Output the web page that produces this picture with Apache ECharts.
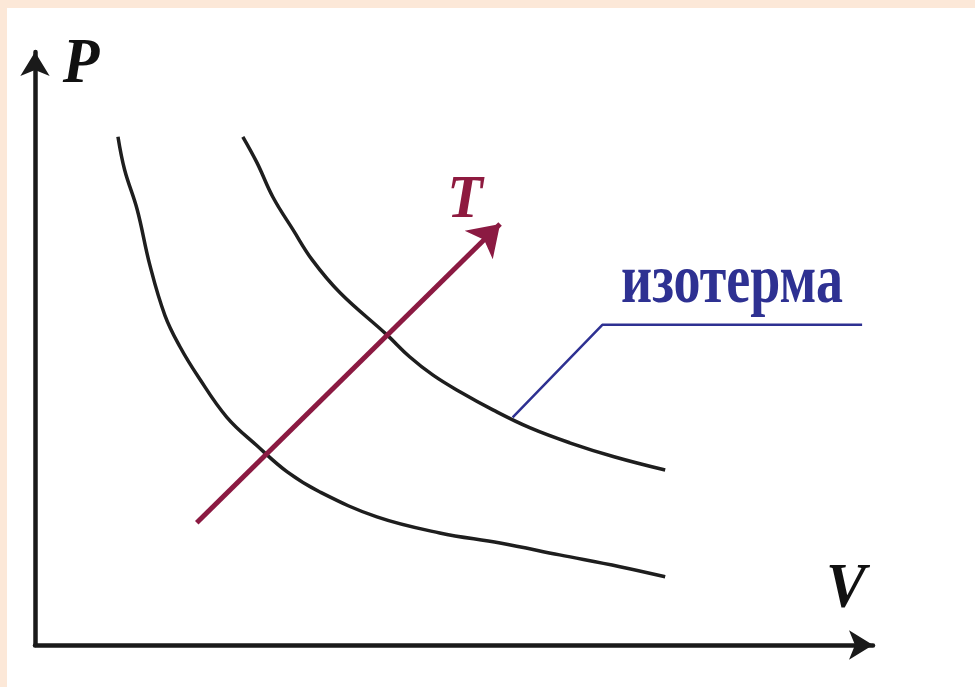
<!DOCTYPE html>
<html lang="ru">
<head>
    <meta charset="UTF-8">
    <title>Изотермы</title>
    <style>
        body { margin: 0; background: #fce8d8; }
        #container { position: absolute; left: 7px; top: 8px; width: 968px; height: 679px; background: #fff; }
    </style>
</head>
<body>
<div id="container"></div>

<script src="https://cdn.jsdelivr.net/npm/echarts@6/dist/echarts.min.js"></script>
<script type="text/javascript">

// изотерма при меньшей температуре (нижняя кривая)
var isoLow = [
  [9.9, 85.7], [10.7, 80.1], [12.2, 73.4], [13.7, 64.1], [15.5, 55.6],
  [17.3, 50.3], [19.5, 45.2], [22.9, 38.4], [26.5, 33.6], [30.1, 29.2],
  [34.0, 25.8], [40.8, 21.6], [48.3, 18.9], [55.5, 17.2], [62.6, 15.2],
  [69.8, 13.2], [75.2, 11.5]
];
// изотерма при большей температуре (верхняя кривая)
var isoHigh = [
  [24.8, 85.7], [26.5, 81.3], [28.4, 75.5], [30.8, 70.0], [33.1, 64.9],
  [36.4, 59.4], [42.0, 52.3], [44.7, 48.6], [47.5, 45.5], [50.7, 42.7],
  [54.7, 39.6], [59.1, 36.6], [63.8, 34.1], [69.2, 31.7], [75.2, 29.5]
];
// стрелка роста температуры T
var arrowT = [[19.3, 20.6], [55.5, 71.0]];
// выноска к подписи "изотерма"
var leader = [[57.0, 38.4], [67.7, 54.0], [98.7, 54.0]];

var labelP = 'P';
var labelV = 'V';
var labelT = 'T';
var labelIso = 'изотерма';

var dom = document.getElementById('container');
var myChart = echarts.init(dom);

var axisCommon = {
  type: 'value',
  min: 0,
  max: 100,
  axisLine: {
    show: true,
    symbol: ['none', 'arrow'],
    symbolSize: [22, 24],
    lineStyle: { color: '#1a1a1a', width: 4.5 }
  },
  axisTick: { show: false },
  axisLabel: { show: false },
  splitLine: { show: false }
};

function letter(text, x, y, color, size, scaleY, italic) {
  return {
    type: 'text',
    x: x,
    y: y,
    scaleY: scaleY,
    z: 10,
    style: {
      text: text,
      x: 0,
      y: 0,
      fill: color,
      fontFamily: '"Liberation Serif", "DejaVu Serif", serif',
      fontWeight: 'bold',
      fontStyle: italic ? 'italic' : 'normal',
      fontSize: size,
      align: 'center',
      verticalAlign: 'middle'
    }
  };
}

var option = {
  animation: false,
  grid: { left: 28, right: 102, top: 44, bottom: 42 },
  xAxis: axisCommon,
  yAxis: axisCommon,
  graphic: [
    letter(labelP, 74, 58, '#111', 60, 1.05, true),
    letter(labelT, 458, 193, '#8e1a3f', 58, 1.05, true),
    letter(labelV, 839, 583, '#111', 60, 1.05, true),
    letter(labelIso, 725, 276, '#2e3192', 54, 1.3, false)
  ],
  series: [
    {
      type: 'line',
      data: isoLow,
      smooth: 0.4,
      showSymbol: false,
      lineStyle: { color: '#1e1e1e', width: 3.5 }
    },
    {
      type: 'line',
      data: isoHigh,
      smooth: 0.4,
      showSymbol: false,
      lineStyle: { color: '#1e1e1e', width: 3.5 }
    },
    {
      type: 'line',
      data: leader,
      showSymbol: false,
      lineStyle: { color: '#2e3192', width: 2.5 }
    },
    {
      type: 'lines',
      coordinateSystem: 'cartesian2d',
      z: 5,
      symbol: ['none', 'arrow'],
      symbolSize: [24, 30],
      lineStyle: { color: '#8b1a42', width: 5, opacity: 1 },
      data: [{ coords: arrowT }]
    }
  ]
};

myChart.setOption(option);
</script>
</body>
</html>
